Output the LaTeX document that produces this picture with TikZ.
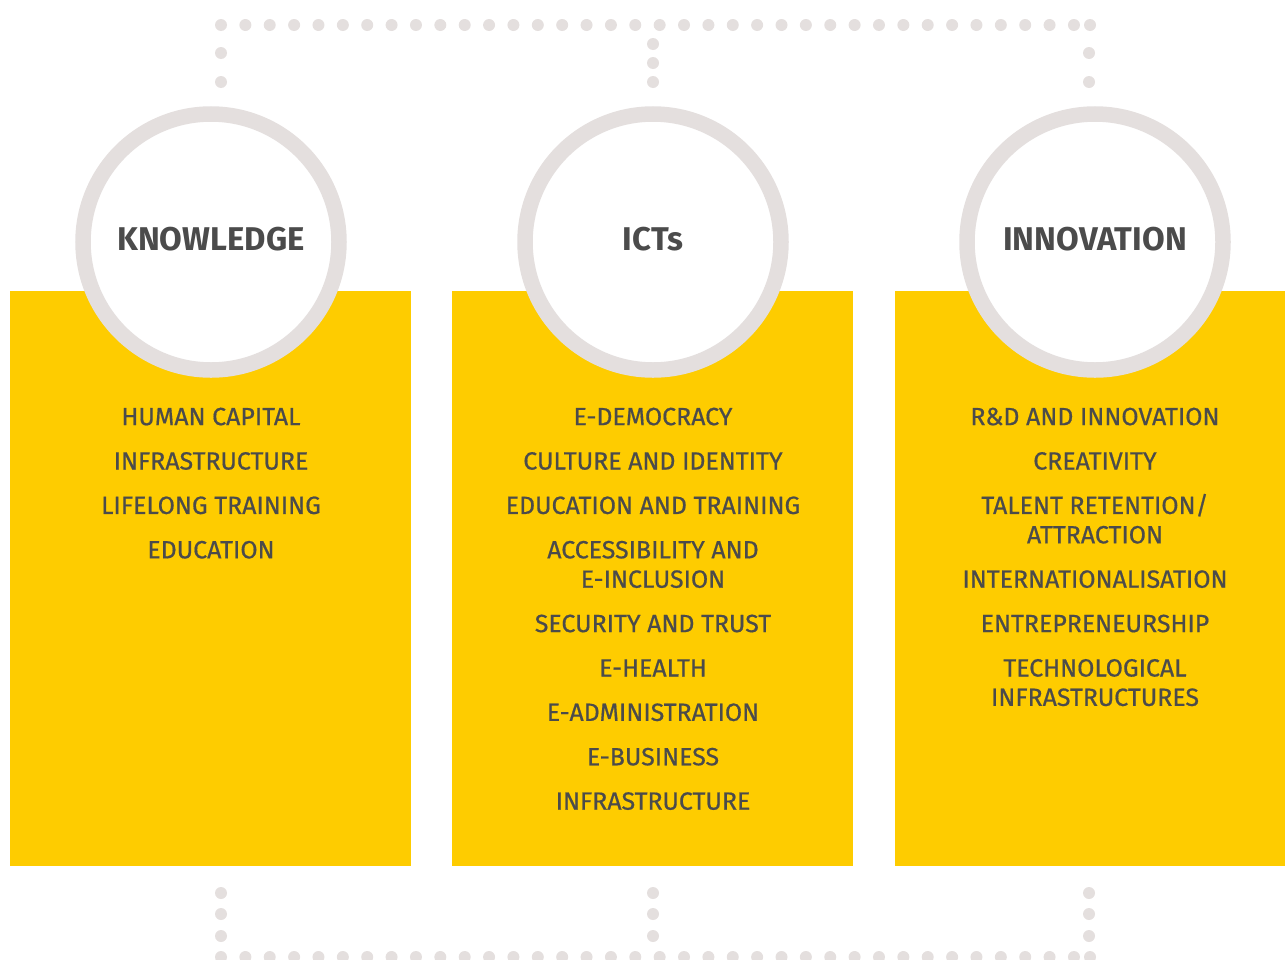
\documentclass[tikz,border=0pt]{standalone}
\usepackage{fontspec}
\setmainfont{Fira Sans}
\newfontfamily\itemfont{Fira Sans}[FakeBold=0.6]
\usepackage{tikz}
\usetikzlibrary{positioning}
\definecolor{pillar}{HTML}{FECC00}
\definecolor{ring}{HTML}{E4DFDE}
\definecolor{ink}{HTML}{4B4B4B}

\begin{document}
\begin{tikzpicture}[
  x=1bp, y=-1bp,
  pillarbox/.style={fill=pillar, draw=none},
  badge/.style={circle, fill=white, draw=ring, line width=15.5bp, minimum size=256bp, inner sep=0pt},
  head/.style={font=\fontsize{33}{38}\selectfont\bfseries, text=ink, inner sep=0pt},
  items/.style={font=\itemfont\fontsize{25}{29.5}\selectfont, text=ink, align=center, inner sep=0pt, anchor=north},
  dot/.style={fill=ring, draw=none},
]
\useasboundingbox (0,0) rectangle (1285,960);

% dotted frame behind the three pillars
\foreach \i in {0,...,35}
  \fill[dot] (221+24.37*\i,25) circle (6);
\fill[dot] (1090,25) circle (6);
\foreach \i in {0,...,35}
  \fill[dot] (221+24.37*\i,957) circle (6);
\fill[dot] (1090,957) circle (6);
\foreach \y in {53,82,893,914,936}
  \fill[dot] (221,\y) circle (6);
\foreach \y in {53,82,893,914,936}
  \fill[dot] (1089,\y) circle (6);
\foreach \y in {44,63,82,893,914,936}
  \fill[dot] (653,\y) circle (6);

% yellow pillars
\fill[pillarbox] (10,291) rectangle (411,866);
\fill[pillarbox] (452,291) rectangle (853,866);
\fill[pillarbox] (895,291) rectangle (1285,866);

% circle badges
\node[badge] (knowledge) at (211,242) {};
\node[badge] (icts) at (653,242) {};
\node[badge] (innovation) at (1095,242) {};

\node[head] (knowledge-title) at (211,239) {KNOWLEDGE};
\node[head] (icts-title) at (653,239) {ICTs};
\node[head] (innovation-title) at (1095,239) {INNOVATION};

% lists inside the pillars
\node[items] (knowledge-list) at (211,407.5) {HUMAN CAPITAL\\[15bp]
  INFRASTRUCTURE\\[15bp]
  LIFELONG TRAINING\\[15bp]
  EDUCATION};
\node[items] (icts-list) at (653,407.5) {E-DEMOCRACY\\[15bp]
  CULTURE AND IDENTITY\\[15bp]
  EDUCATION AND TRAINING\\[15bp]
  ACCESSIBILITY AND\\E-INCLUSION\\[15bp]
  SECURITY AND TRUST\\[15bp]
  E-HEALTH\\[15bp]
  E-ADMINISTRATION\\[15bp]
  E-BUSINESS\\[15bp]
  INFRASTRUCTURE};
\node[items] (innovation-list) at (1095,407.5) {R\&D AND INNOVATION\\[15bp]
  CREATIVITY\\[15bp]
  TALENT RETENTION/\\ATTRACTION\\[15bp]
  INTERNATIONALISATION\\[15bp]
  ENTREPRENEURSHIP\\[15bp]
  TECHNOLOGICAL\\INFRASTRUCTURES};
\end{tikzpicture}
\end{document}
